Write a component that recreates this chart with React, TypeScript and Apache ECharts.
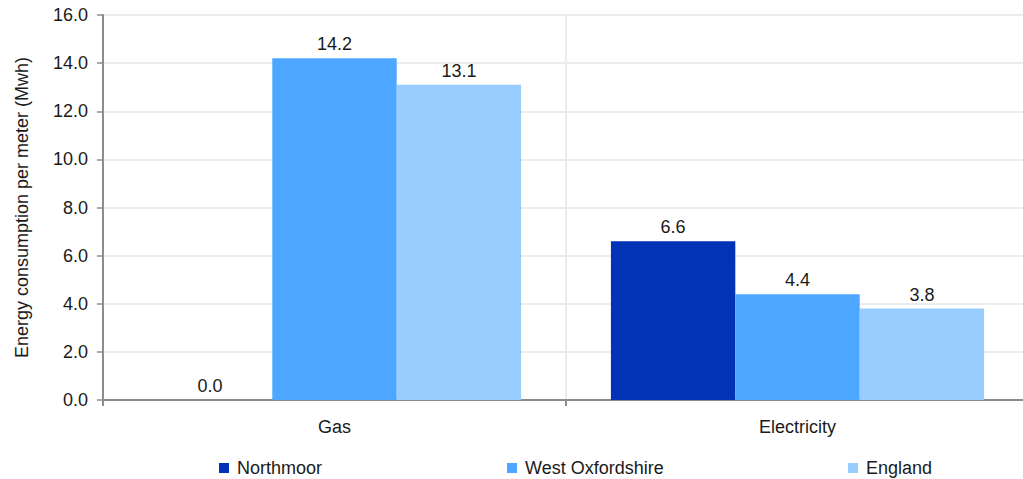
import React, { useEffect, useRef } from "react";
import * as echarts from "echarts";

const categories = ["Gas", "Electricity"];
const northmoor = [0.0, 6.6];
const westOxfordshire = [14.2, 4.4];
const england = [13.1, 3.8];
const seriesNames = ["Northmoor", "West Oxfordshire", "England"];
const colors = ["#0232B5", "#4DA6FF", "#99CCFF"];

export default function App() {
  const ref = useRef<HTMLDivElement>(null);
  useEffect(() => {
    document.body.style.margin = "0";
    const chart = echarts.init(ref.current!, null, { renderer: "svg" });
    const font = "Liberation Sans, Arial, sans-serif";
    const label = {
      show: true,
      position: "top",
      distance: 5,
      color: "#1a1a1a",
      fontSize: 18,
      fontFamily: font,
      formatter: (p: any) => Number(p.value).toFixed(1),
    };
    const dataSets = [northmoor, westOxfordshire, england];
    const legendLefts = [219, 507, 848];
    chart.setOption({
      animation: false,
      textStyle: { fontFamily: font },
      grid: { left: 103, right: 0, top: 15, bottom: 79, containLabel: false },
      legend: seriesNames.map((n, i) => ({
        data: [n],
        left: legendLefts[i],
        top: 459,
        padding: 0,
        itemWidth: 10,
        itemHeight: 10,
        itemGap: 0,
        icon: "rect",
        textStyle: { fontSize: 18, color: "#1a1a1a", fontFamily: font, padding: [0, 0, 0, 3] },
      })),
      xAxis: {
        type: "category",
        data: categories,
        axisLine: { lineStyle: { color: "#8c8c8c", width: 2 } },
        axisTick: { show: true, length: 6, lineStyle: { color: "#8c8c8c", width: 2 } },
        splitLine: { show: true, lineStyle: { color: "#ececec", width: 2 } },
        axisLabel: { fontSize: 18, color: "#1a1a1a", margin: 18, fontFamily: font },
      },
      yAxis: {
        type: "value",
        min: 0,
        max: 16,
        interval: 2,
        name: "Energy consumption per meter (Mwh)",
        nameLocation: "middle",
        nameGap: 72,
        nameTextStyle: { fontSize: 18, color: "#1a1a1a", fontFamily: font },
        axisLine: { show: true, lineStyle: { color: "#8c8c8c", width: 2 } },
        axisTick: { show: true, length: 6, lineStyle: { color: "#8c8c8c", width: 1.5 } },
        splitLine: { show: true, lineStyle: { color: "#ececec", width: 2 } },
        axisLabel: {
          fontSize: 18,
          color: "#1a1a1a",
          margin: 15,
          fontFamily: font,
          formatter: (v: number) => v.toFixed(1),
        },
      },
      series: seriesNames.map((n, i) => ({
        name: n,
        type: "bar",
        data: dataSets[i],
        itemStyle: { color: colors[i] },
        barGap: "0%",
        barCategoryGap: "19.4%",
        label,
      })),
    });
    return () => chart.dispose();
  }, []);
  return (
    <div style={{ width: 1023, height: 479, overflow: "hidden" }}>
      <div ref={ref} style={{ width: 1029, height: 479 }} />
    </div>
  );
}
